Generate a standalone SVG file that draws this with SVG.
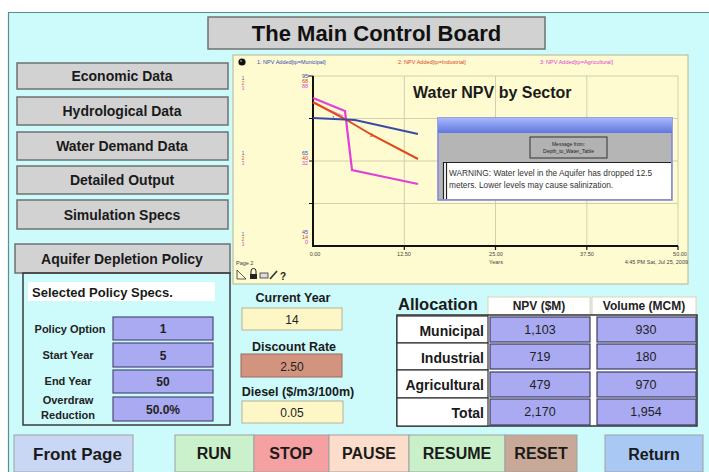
<svg xmlns="http://www.w3.org/2000/svg" width="709" height="472" viewBox="0 0 709 472">
<defs>
<style>
text{font-family:"Liberation Sans",Arial,Helvetica,sans-serif;}
.btn{fill:#d2d2d2;stroke:#707070;stroke-width:1.5;}
.bt{font-size:14px;font-weight:bold;fill:#1a1a1a;text-anchor:middle;}
.val{fill:#a9aaf2;stroke:#4b4b78;stroke-width:1.2;}
.lbl{font-size:11px;font-weight:bold;fill:#222;text-anchor:middle;}
.v{font-size:12px;font-weight:bold;fill:#222;text-anchor:middle;}
.grid{stroke:#d2cfae;stroke-width:1;fill:none;}
.tiny{font-size:5.5px;fill:#555;}
.cell{fill:#fff;stroke:#333;stroke-width:1.2;}
.tcell{fill:#a9aaf2;stroke:#3c3c60;stroke-width:1.2;}
.tv{font-size:12.5px;fill:#222;text-anchor:middle;}
.rl{font-size:14px;font-weight:bold;fill:#1a1a1a;text-anchor:end;}
.ctl{font-size:16px;font-weight:bold;fill:#1a1a1a;text-anchor:middle;}
.cb{stroke:#a0a0a0;stroke-width:1;}
.inp{stroke:#b9b090;stroke-width:1;}
.ml{font-size:12.5px;font-weight:bold;fill:#1a1a1a;text-anchor:middle;}
.mv{font-size:12px;fill:#222;text-anchor:middle;}
</style>
<linearGradient id="titlebar" x1="0" y1="0" x2="0" y2="1">
<stop offset="0" stop-color="#a8b8f8"/><stop offset="0.5" stop-color="#8296ee"/><stop offset="1" stop-color="#6276dc"/>
</linearGradient>
</defs>

<!-- backdrop -->
<rect x="0" y="0" width="709" height="472" fill="#ffffff"/>
<rect x="8" y="12" width="701" height="460" fill="#cdfafb"/>
<path d="M8.5 472 V12.5 H709" fill="none" stroke="#5a8f90" stroke-width="1.2"/>

<!-- heading -->
<g id="title">
<rect x="208" y="17" width="337" height="32" class="btn"/>
<text x="376.5" y="41" font-size="22" font-weight="bold" text-anchor="middle" fill="#111">The Main Control Board</text>
</g>

<!-- navigation buttons -->
<g id="btn-economic"><rect x="17" y="63" width="211" height="26" class="btn"/><text x="122" y="81" class="bt">Economic Data</text></g>
<g id="btn-hydro"><rect x="17" y="97" width="211" height="28" class="btn"/><text x="122" y="116" class="bt">Hydrological Data</text></g>
<g id="btn-demand"><rect x="17" y="132" width="211" height="28" class="btn"/><text x="122" y="151" class="bt">Water Demand Data</text></g>
<g id="btn-detailed"><rect x="17" y="166" width="211" height="28" class="btn"/><text x="122" y="185" class="bt">Detailed Output</text></g>
<g id="btn-simspecs"><rect x="17" y="200" width="211" height="29" class="btn"/><text x="122" y="219.5" class="bt">Simulation Specs</text></g>
<g id="btn-aquifer"><rect x="15" y="244" width="215" height="29" class="btn"/><text x="122" y="264" class="bt">Aquifer Depletion Policy</text></g>

<!-- policy specs panel -->
<g id="policy-specs">
<rect x="23" y="273" width="207" height="152" fill="none" stroke="#3a3a3a" stroke-width="1.5"/>
<rect x="28" y="282" width="187" height="19" fill="#ffffff"/>
<text x="32" y="297" font-size="13" font-weight="bold" fill="#1a1a1a">Selected Policy Specs.</text>
<text x="70" y="333" class="lbl">Policy Option</text>
<rect x="113" y="317" width="100" height="23" class="val"/><text x="163" y="333" class="v">1</text>
<text x="68" y="359" class="lbl">Start Year</text>
<rect x="113" y="343" width="100" height="24" class="val"/><text x="163" y="359.5" class="v">5</text>
<text x="68" y="385" class="lbl">End Year</text>
<rect x="113" y="370" width="100" height="23" class="val"/><text x="163" y="386" class="v">50</text>
<text x="68" y="404" class="lbl">Overdraw</text>
<text x="68" y="419" class="lbl">Reduction</text>
<rect x="113" y="397" width="100" height="24" class="val"/><text x="163" y="413.5" class="v">50.0%</text>
</g>

<!-- graph pad -->
<g id="npv-graph">
<rect x="233" y="55" width="455" height="229" fill="#fdfbcf" stroke="#b5b396" stroke-width="1"/>
<circle cx="242" cy="62" r="3.6" fill="#111"/>
<circle cx="241" cy="61" r="1" fill="#888"/>
<text x="257" y="64" class="tiny" style="fill:#3848b8">1: NPV Added[tp=Municipal]</text>
<text x="398" y="64" class="tiny" style="fill:#e0442a">2: NPV Added[tp=Industrial]</text>
<text x="540" y="64" class="tiny" style="fill:#e040d8">3: NPV Added[tp=Agricultural]</text>

<!-- grid -->
<path class="grid" d="M313 76 H678 M313 118.5 H678 M313 161 H678 M313 203.5 H678 M404.3 76 V246 M495.5 76 V246 M586.8 76 V246 M678 76 V246"/>
<!-- axes -->
<path d="M313 76 V246 H678" fill="none" stroke="#111" stroke-width="2"/>
<path d="M308 76 H313 M309 118.5 H313 M309 161 H313 M309 203.5 H313 M404.3 246 V250 M495.5 246 V250 M586.8 246 V250 M678 246 V250" stroke="#111" stroke-width="1.2"/>

<!-- scale labels -->
<g font-size="5.5" text-anchor="end">
<text x="308" y="78" fill="#3848b8">95</text><text x="308" y="83" fill="#e0442a">68</text><text x="308" y="88" fill="#e040d8">88</text>
<text x="308" y="155" fill="#3848b8">65</text><text x="308" y="160" fill="#e0442a">40</text><text x="308" y="165" fill="#e040d8">32</text>
<text x="308" y="234" fill="#3848b8">45</text><text x="308" y="239" fill="#e0442a">14</text><text x="308" y="244" fill="#e040d8">0</text>
</g>
<g font-size="4.5" text-anchor="middle">
<text x="243" y="80" fill="#3848b8">1</text><text x="243" y="85" fill="#e0442a">2</text><text x="243" y="90" fill="#e040d8">3</text>
<text x="243" y="155" fill="#3848b8">1</text><text x="243" y="160" fill="#e0442a">2</text><text x="243" y="165" fill="#e040d8">3</text>
<text x="243" y="236" fill="#3848b8">1</text><text x="243" y="241" fill="#e0442a">2</text><text x="243" y="246" fill="#e040d8">3</text>
</g>
<g font-size="5.5" fill="#444" text-anchor="middle">
<text x="315" y="256">0.00</text><text x="404" y="256">12.50</text><text x="496" y="256">25.00</text><text x="587" y="256">37.50</text><text x="680" y="256">50.00</text>
<text x="496" y="264">Years</text>
</g>
<text x="688" y="264" font-size="5.5" fill="#444" text-anchor="end">4:45 PM  Sat, Jul 25, 2009</text>

<!-- series -->
<polyline points="313,98 345,111 352,170 380,176 418,184" fill="none" stroke="#e040d8" stroke-width="2.2"/>
<polyline points="313,103 343,116" fill="none" stroke="#e86ee0" stroke-width="1.2"/>
<polyline points="313,102 345,119 372,135 418,159" fill="none" stroke="#e0481c" stroke-width="2"/>
<polyline points="313,118 355,120 418,134" fill="none" stroke="#3a4aa8" stroke-width="2"/>
<text x="332" y="120" font-size="5" fill="#3a4aa8">1</text>
<text x="370" y="137" font-size="5" fill="#e0481c">2</text>

<text x="413" y="98" font-size="16" font-weight="bold" fill="#1a1a1a">Water NPV by Sector</text>

<!-- pad footer -->
<text x="236" y="265" font-size="5.5" fill="#444">Page 2</text>
<path d="M237 270 V279 H246 Z" fill="none" stroke="#333" stroke-width="0.8"/>
<path d="M251 274 V271 A2.5 2.5 0 0 1 256 271 V274" fill="none" stroke="#222" stroke-width="1"/>
<rect x="250" y="274" width="7" height="5" fill="#222"/>
<rect x="260" y="273" width="8" height="5" fill="#ddd" stroke="#333" stroke-width="0.8"/>
<path d="M270 279 L277 271" stroke="#333" stroke-width="1.6"/>
<text x="283" y="280" font-size="10" font-weight="bold" fill="#222" text-anchor="middle">?</text>
</g>

<!-- alert window -->
<g id="alert">
<rect x="438" y="118" width="234" height="82" fill="#b5b5b5" stroke="#7b84e4" stroke-width="1.5"/>
<rect x="438" y="118" width="234" height="15" fill="url(#titlebar)"/>
<rect x="530" y="137" width="77" height="21" fill="#b2b2b2" stroke="#333" stroke-width="1"/>
<text x="568.5" y="146" font-size="5" fill="#222" text-anchor="middle">Message from:</text>
<text x="568.5" y="153" font-size="5" fill="#222" text-anchor="middle">Depth_to_Water_Table</text>
<rect x="443" y="162" width="228" height="37" fill="#ffffff"/>
<path d="M443 162.5 H671 M443.5 162 V199 M446.5 163 V199" stroke="#222" stroke-width="1.2"/>
<text x="449" y="176" font-size="8.3" fill="#333">WARNING: Water level in the Aquifer has dropped 12.5</text>
<text x="449" y="188" font-size="8.3" fill="#333">meters. Lower levels may cause salinization.</text>
</g>

<!-- run-time inputs -->
<g id="current-year">
<text x="293" y="302" class="ml">Current Year</text>
<rect x="242" y="308" width="100" height="22" fill="#fdf7c8" class="inp"/>
<text x="292" y="324" class="mv">14</text>
</g>
<g id="discount-rate">
<text x="294" y="351" class="ml">Discount Rate</text>
<rect x="241" y="354" width="101" height="23" fill="#d3947f" stroke="#9a6a5a" stroke-width="1"/>
<text x="292" y="371" class="mv">2.50</text>
</g>
<g id="diesel">
<text x="298" y="396" class="ml">Diesel ($/m3/100m)</text>
<rect x="242" y="401" width="101" height="22" fill="#fdf7c8" class="inp"/>
<text x="292" y="417" class="mv">0.05</text>
</g>

<!-- allocation table -->
<g id="allocation">
<text x="398" y="310" font-size="16.5" font-weight="bold" fill="#1a1a1a">Allocation</text>
<rect x="488" y="297" width="102" height="18" fill="#ffffff" stroke="#e2d4b4" stroke-width="1"/>
<rect x="592" y="297" width="104" height="18" fill="#ffffff" stroke="#e2d4b4" stroke-width="1"/>
<text x="539" y="310" font-size="12" font-weight="bold" fill="#222" text-anchor="middle">NPV ($M)</text>
<text x="644" y="310" font-size="12" font-weight="bold" fill="#222" text-anchor="middle">Volume (MCM)</text>
<rect x="397" y="315" width="300" height="111" fill="#ffffff" stroke="#333" stroke-width="1.5"/>
<rect x="397" y="316" width="91" height="27" class="cell"/>
<rect x="397" y="343" width="91" height="27" class="cell"/>
<rect x="397" y="370" width="91" height="28" class="cell"/>
<rect x="397" y="398" width="91" height="28" class="cell"/>
<text x="484" y="336" class="rl">Municipal</text>
<text x="484" y="363" class="rl">Industrial</text>
<text x="484" y="390" class="rl">Agricultural</text>
<text x="484" y="418" class="rl">Total</text>
<rect x="490" y="317" width="100" height="25" class="tcell"/>
<rect x="597" y="317" width="99" height="25" class="tcell"/>
<rect x="490" y="344" width="100" height="25" class="tcell"/>
<rect x="597" y="344" width="99" height="25" class="tcell"/>
<rect x="490" y="372" width="100" height="25" class="tcell"/>
<rect x="597" y="372" width="99" height="25" class="tcell"/>
<rect x="490" y="399" width="100" height="26" class="tcell"/>
<rect x="597" y="399" width="99" height="26" class="tcell"/>
<text x="540" y="334" class="tv">1,103</text><text x="646" y="334" class="tv">930</text>
<text x="540" y="361" class="tv">719</text><text x="646" y="361" class="tv">180</text>
<text x="540" y="389" class="tv">479</text><text x="646" y="389" class="tv">970</text>
<text x="540" y="416" class="tv">2,170</text><text x="646" y="416" class="tv">1,954</text>
</g>

<!-- control strip -->
<g id="btn-front"><rect x="14" y="435" width="119" height="37" fill="#c9d7f5" class="cb"/><text x="77.5" y="460" font-size="17" font-weight="bold" fill="#1a1a1a" text-anchor="middle">Front Page</text></g>
<g id="btn-run"><rect x="175" y="435" width="79" height="37" fill="#caf1cc" class="cb"/><text x="214" y="459" class="ctl">RUN</text></g>
<g id="btn-stop"><rect x="254" y="435" width="75" height="37" fill="#f5a1a1" class="cb"/><text x="291" y="459" class="ctl">STOP</text></g>
<g id="btn-pause"><rect x="329" y="435" width="80" height="37" fill="#fcdccb" class="cb"/><text x="369" y="459" class="ctl">PAUSE</text></g>
<g id="btn-resume"><rect x="409" y="435" width="96" height="37" fill="#c9f0c9" class="cb"/><text x="457" y="459" class="ctl">RESUME</text></g>
<g id="btn-reset"><rect x="505" y="435" width="72" height="37" fill="#c8a896" class="cb"/><text x="541" y="459" class="ctl">RESET</text></g>
<g id="btn-return"><rect x="605" y="435" width="98" height="37" fill="#a9c8f3" class="cb"/><text x="654" y="460" class="ctl">Return</text></g>
</svg>
